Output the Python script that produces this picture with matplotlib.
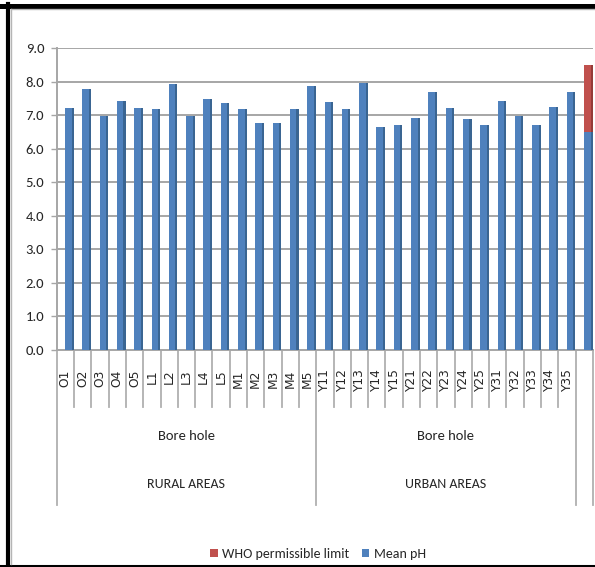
import matplotlib
matplotlib.use("Agg")
import matplotlib.pyplot as plt
from matplotlib.patches import Patch
from matplotlib.lines import Line2D
import matplotlib.transforms as mtransforms

# Sampling sites (borehole water), rural then urban
rural_sites = ["O1", "O2", "O3", "O4", "O5", "L1", "L2", "L3", "L4", "L5",
               "M1", "M2", "M3", "M4", "M5"]
urban_sites = ["Y11", "Y12", "Y13", "Y14", "Y15", "Y21", "Y22", "Y23", "Y24", "Y25",
               "Y31", "Y32", "Y33", "Y34", "Y35"]

rural_ph = [7.2, 7.77, 6.97, 7.42, 7.22, 7.17, 7.93, 6.98, 7.47, 7.37,
            7.17, 6.77, 6.77, 7.17, 7.86]
urban_ph = [7.38, 7.18, 7.95, 6.66, 6.71, 6.92, 7.68, 7.22, 6.89, 6.72,
            7.43, 6.98, 6.71, 7.23, 7.68]

# WHO permissible pH range, drawn as the last (unlabelled) column
who_lower = 6.5
who_upper = 8.5

source_label = "Bore hole"
group_labels = ["RURAL AREAS", "URBAN AREAS"]
legend_labels = ["WHO permissible limit", "Mean pH"]

categories = rural_sites + urban_sites + [""]
mean_ph = rural_ph + urban_ph + [who_lower]

BLUE = "#4F81BD"
BLUE_SIDE = "#3A6592"
RED = "#C0504D"
RED_SIDE = "#963B38"
GRID = "#A6A6A6"
TEXT = "#262626"
FONT = ["Carlito", "DejaVu Sans"]

W, H, DPI = 595, 567, 100
fig = plt.figure(figsize=(W / DPI, H / DPI), dpi=DPI)


def fx(px):
    return px / W


def fy(py):
    return (H - py) / H


ax_left, ax_right = 56.7, 593.0
ax_top, ax_bottom = 48.0, 350.0
ax = fig.add_axes([fx(ax_left), fy(ax_bottom),
                   fx(ax_right - ax_left), (ax_bottom - ax_top) / H])

n = len(categories)
xs = list(range(n))
offset = 0.17      # bars sit slightly right of the label cell (floor depth)
front_w = 0.38
side_w = 0.12

bx = [x + offset for x in xs]
# front faces
ax.bar(bx, mean_ph, width=front_w, color=BLUE, zorder=3, linewidth=0)
# shaded side faces
ax.bar([b + front_w / 2 + side_w / 2 for b in bx], mean_ph, width=side_w,
       color=BLUE_SIDE, zorder=3, linewidth=0)

# WHO limit segment stacked on the last column
ax.bar(bx[-1], who_upper - who_lower, bottom=who_lower, width=front_w,
       color=RED, zorder=3, linewidth=0)
ax.bar(bx[-1] + front_w / 2 + side_w / 2, who_upper - who_lower, bottom=who_lower,
       width=side_w, color=RED_SIDE, zorder=3, linewidth=0)

ax.set_xlim(-0.5, n - 0.5)
ax.set_ylim(0, 9)
ax.set_yticks(range(0, 10))
ax.set_yticklabels([f"{v:.1f}" for v in range(0, 10)], family=FONT,
                   fontsize=10.5, color=TEXT)
ax.yaxis.grid(True, color=GRID, linewidth=1.4, zorder=0)
ax.set_axisbelow(True)
ax.tick_params(axis="y", length=4, color=GRID, width=1, pad=5)

ax.set_xticks(xs)
ax.set_xticklabels(categories, rotation=90, fontsize=8.8, color=TEXT,
                   va="top", ha="center")
ax.tick_params(axis="x", length=0, pad=14)

for side in ("top", "right"):
    ax.spines[side].set_visible(False)
ax.spines["left"].set_color(GRID)
ax.spines["left"].set_linewidth(1.4)
ax.spines["bottom"].set_color(GRID)
ax.spines["bottom"].set_linewidth(1.4)

# Multi-level category separators below the axis
blend = mtransforms.blended_transform_factory(ax.transData, fig.transFigure)
long_edges = {-0.5, 14.5, 29.5, 30.5}
for k in range(n + 1):
    xb = k - 0.5
    y_end = 505 if xb in long_edges else 407
    ax.add_line(Line2D([xb, xb], [fy(ax_bottom), fy(y_end)], transform=blend,
                       color="#B0B0B0", linewidth=1.3, clip_on=False))

# Second and third label levels
for g, (lo, hi) in enumerate([(-0.5, 14.5), (14.5, 29.5)]):
    cx = (lo + hi) / 2
    ax.text(cx, fy(436), source_label, transform=blend, ha="center", va="center",
            family=FONT, fontsize=10.5, color=TEXT)
    ax.text(cx, fy(484), group_labels[g], transform=blend, ha="center", va="center",
            family=FONT, fontsize=10, color=TEXT)

# Legend
handles = [Patch(facecolor=RED, edgecolor="none"),
           Patch(facecolor=BLUE, edgecolor="none")]
leg = fig.legend(handles, legend_labels, loc="center", ncol=2,
                 bbox_to_anchor=(fx(318), fy(554)), frameon=False,
                 prop={"family": FONT, "size": 10}, handlelength=0.55,
                 handleheight=0.55, handletextpad=0.3, columnspacing=0.9)
for t in leg.get_texts():
    t.set_color(TEXT)

# Chart frame: black outer border with a thin gray inner edge
fig.add_artist(Line2D([fx(0), fx(W)], [fy(5.5), fy(5.5)], color="black", linewidth=3.6))
fig.add_artist(Line2D([fx(8), fx(8)], [fy(3.5), fy(H)], color="black", linewidth=3.0))
fig.add_artist(Line2D([fx(0), fx(W)], [fy(565.5), fy(565.5)], color="black", linewidth=2.2))
fig.add_artist(Line2D([fx(11), fx(11)], [fy(8.5), fy(564)], color="#B5B5B5", linewidth=1.0))
fig.add_artist(Line2D([fx(11), fx(W)], [fy(9), fy(9)], color="#B5B5B5", linewidth=1.0))

fig.savefig("out.png", dpi=DPI)
